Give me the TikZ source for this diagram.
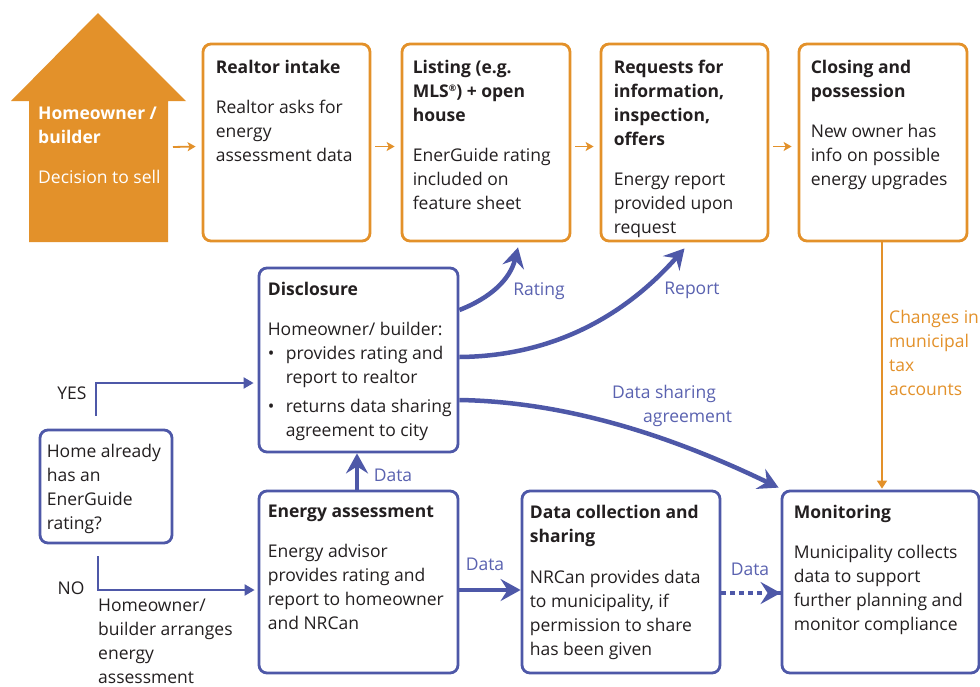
\documentclass[tikz,border=0pt]{standalone}
\usepackage{fontspec}
\setmainfont{Open Sans}
\usetikzlibrary{arrows.meta,calc}
\definecolor{org}{HTML}{E3912A}
\definecolor{blu}{HTML}{4E58A8}
\definecolor{lblu}{HTML}{5A62B0}
\definecolor{ink}{HTML}{231F20}
\begin{document}
\begin{tikzpicture}[x=1pt,y=-1pt,
 obox/.style={draw=org,line width=2.8pt,rounded corners=8pt,fill=white,inner sep=0},
 bbox/.style={draw=blu,line width=2.8pt,rounded corners=8pt,fill=white,inner sep=0},
 txt/.style={anchor=north west,inner sep=0,align=left,font=\fontsize{17.5}{24}\selectfont,text=ink},
 lab/.style={inner sep=0,font=\fontsize{17.5}{24}\selectfont,text=lblu},
 oarr/.style={draw=org,line width=1.8pt,-{Stealth[length=8pt,width=9pt,inset=2pt]}},
 tline/.style={draw=blu,line width=2pt,-{Triangle[length=10pt,width=11pt]}},
 barr/.style={draw=blu,line width=4.5pt,-{Stealth[length=20pt,width=22pt,inset=7pt]}},
]
\useasboundingbox (0,0) rectangle (980,686);
\fill[white] (0,0) rectangle (980,686);
% house
\fill[org] (98,13) -- (186,101) -- (168,101) -- (168,242) -- (29,242) -- (29,101) -- (11,101) -- cycle;
\coordinate (houseR) at (173,147);
\node[txt,text=white] (housetxt) at (38,107) {\textbf{Homeowner /}\\\textbf{builder}\\[16pt]Decision to sell};
% top boxes
\node[obox,minimum width=167pt,minimum height=197pt] (realtor) at (286.5,142.5) {};
\node[obox,minimum width=168pt,minimum height=197pt] (list) at (486,142.5) {};
\node[obox,minimum width=167pt,minimum height=197pt] (req) at (684.5,142.5) {};
\node[obox,minimum width=168pt,minimum height=197pt] (close) at (883,142.5) {};
\node[txt] (realtortxt) at ([xshift=14pt,yshift=-17pt]realtor.north west) {\textbf{Realtor intake}\\[16pt]Realtor asks for\\energy\\assessment data};
\node[txt] (listtxt) at ([xshift=12pt,yshift=-17pt]list.north west) {\textbf{Listing (e.g.}\\\textbf{MLS{\fontsize{9}{9}\selectfont\raisebox{6pt}{®}}) + open}\\\textbf{house}\\[16pt]EnerGuide rating\\included on\\feature sheet};
\node[txt] (reqtxt) at ([xshift=14pt,yshift=-17pt]req.north west) {\textbf{Requests for}\\\textbf{information,}\\\textbf{inspection,}\\\textbf{offers}\\[16pt]Energy report\\provided upon\\request};
\node[txt] (closetxt) at ([xshift=13pt,yshift=-17pt]close.north west) {\textbf{Closing and}\\\textbf{possession}\\[16pt]New owner has\\info on possible\\energy upgrades};
% orange arrows
\draw[oarr] (houseR) -- ([xshift=-6pt,yshift=-4pt]realtor.west);
\draw[oarr] ([xshift=4pt,yshift=-4pt]realtor.east) -- ([xshift=-6pt,yshift=-4pt]list.west);
\draw[oarr] ([xshift=4pt,yshift=-4pt]list.east) -- ([xshift=-6pt,yshift=-4pt]req.west);
\draw[oarr] ([xshift=4pt,yshift=-4pt]req.east) -- ([xshift=-6pt,yshift=-4pt]close.west);
% blue boxes
\node[bbox,minimum width=199pt,minimum height=184pt] (disc) at (358.5,360) {};
\node[bbox,minimum width=132pt,minimum height=113pt] (home) at (106,486.5) {};
\node[bbox,minimum width=199pt,minimum height=182pt] (energy) at (358.5,582) {};
\node[bbox,minimum width=198pt,minimum height=182pt] (dc) at (621,582) {};
\node[bbox,minimum width=197pt,minimum height=182pt] (mon) at (880.5,582) {};
\node[txt] (disctxt) at ([xshift=10pt,yshift=-15pt]disc.north west) {\textbf{Disclosure}\\[16pt]Homeowner/ builder:\\\makebox[18pt][l]{•}provides rating and\\\hspace*{18pt}report to realtor\\[5pt]\makebox[18pt][l]{•}returns data sharing\\\hspace*{18pt}agreement to city};
\node[txt] (hometxt) at ([xshift=8pt,yshift=-15pt]home.north west) {Home already\\has an\\EnerGuide\\rating?};
\node[txt] (energytxt) at ([xshift=10pt,yshift=-15pt]energy.north west) {\textbf{Energy assessment}\\[16pt]Energy advisor\\provides rating and\\report to homeowner\\and NRCan};
\node[txt] (dctxt) at ([xshift=9pt,yshift=-15pt]dc.north west) {\textbf{Data collection and}\\\textbf{sharing}\\[17pt]NRCan provides data\\to municipality, if\\permission to share\\has been given};
\node[txt] (montxt) at ([xshift=13pt,yshift=-15pt]mon.north west) {\textbf{Monitoring}\\[16pt]Municipality collects\\data to support\\further planning and\\monitor compliance};
% orange vertical
\draw[draw=org,line width=1.5pt,-{Triangle[length=8pt,width=10pt]}] ([xshift=-1pt]close.south) -- ([xshift=-1pt,yshift=1pt]close.south |- mon.north);
\node[txt,text=org] (chg) at (889,310) {Changes in\\municipal\\tax\\accounts};
% yes / no
\draw[tline] ([xshift=-10pt,yshift=13pt]home.north) |- ([xshift=-4pt,yshift=-23pt]disc.west);
\node[txt,anchor=center] (yes) at (72,393) {YES};
\draw[tline] ([xshift=-8pt,yshift=-12pt]home.south) |- ([xshift=-3pt,yshift=-8pt]energy.west);
\node[txt,anchor=center] (no) at (71,588) {NO};
\node[txt] (arr) at (98,599) {Homeowner/\\builder arranges\\energy\\assessment};
% blue data arrows
\draw[barr] ([xshift=-1.5pt]energy.north) -- ([xshift=-1.5pt]disc.south);
\node[lab] (d1) at (393,475) {Data};
\draw[barr] ([yshift=-8pt]energy.east) -- ([yshift=-8pt]dc.west);
\node[lab] (d2) at (485,564) {Data};
\draw[draw=blu,line width=4.5pt,dash pattern=on 5pt off 4pt] ([yshift=-11pt]dc.east) -- ([xshift=-18pt,yshift=-11pt]mon.west);
\draw[barr,shorten <=60pt] ([yshift=-11pt]dc.east) -- ([yshift=-11pt]mon.west);
\node[lab] (d3) at (750,569) {Data};
% curved arrows
\draw[barr] ([yshift=50pt]disc.east) .. controls (490,298) and (510,280) .. ([xshift=32pt,yshift=-5pt]list.south);
\node[lab] (rating) at (539,291) {Rating};
\draw[barr] ([yshift=3pt]disc.east) .. controls (560,356) and (630,310) .. ([yshift=-6pt]req.south);
\node[lab] (report) at (692,290) {Report};
\draw[barr] ([yshift=-40pt]disc.east) .. controls (580,402) and (690,445) .. ([xshift=-2pt,yshift=2pt]mon.north west);
\node[lab,anchor=north west,align=left] (dsa) at (612,385) {Data sharing\\\hspace*{31pt}agreement};
\end{tikzpicture}
\end{document}
